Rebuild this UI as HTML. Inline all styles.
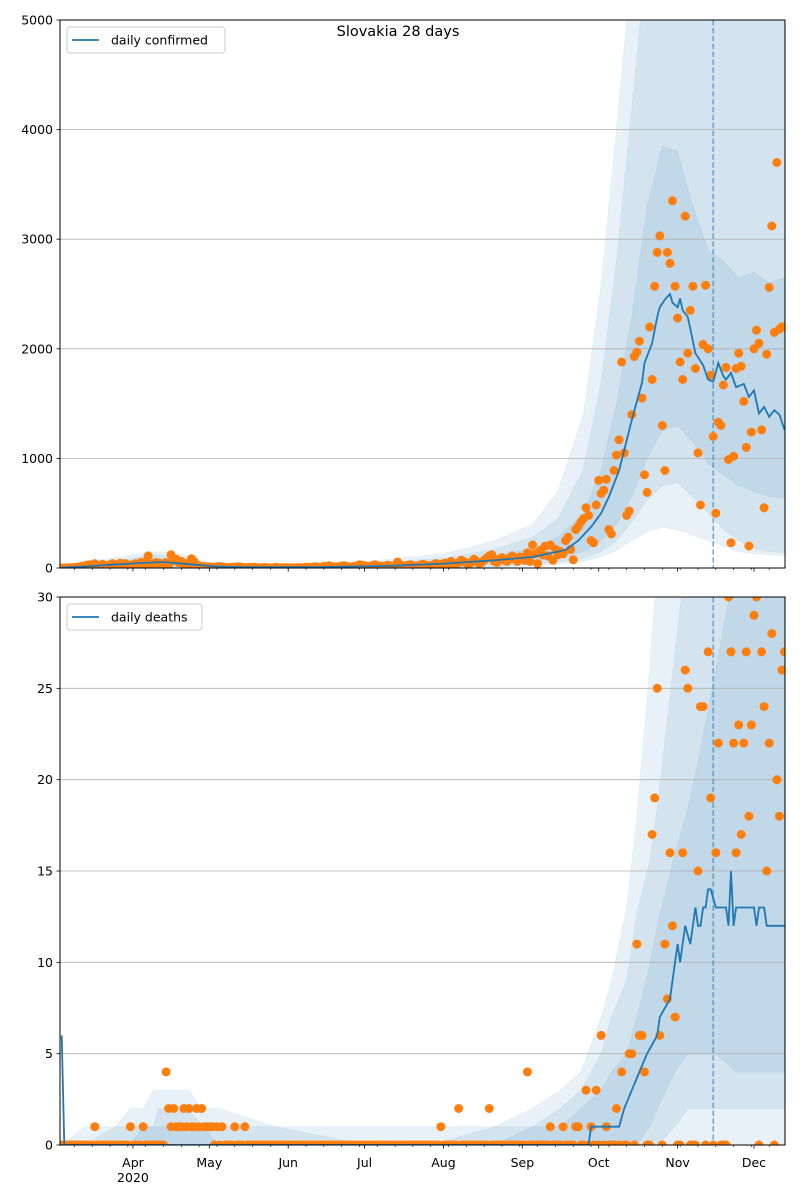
<!DOCTYPE html>
<html><head><meta charset="utf-8"><title>Slovakia 28 days</title>
<style>
html,body{margin:0;padding:0;background:#fff;}
svg{display:block;font-family:"DejaVu Sans","Liberation Sans",sans-serif;}
</style></head>
<body>
<svg id="fig" width="800" height="1200" viewBox="0 0 800 1200" xmlns="http://www.w3.org/2000/svg">
<defs>
<clipPath id="clipTop"><rect x="60" y="20" width="725" height="548"/></clipPath>
<clipPath id="clipBot"><rect x="60" y="597" width="725" height="548"/></clipPath>
</defs>
<rect x="0" y="0" width="800" height="1200" fill="#fff"/>
<g id="top"></g>
<g id="bot"></g>
<text x="398" y="36" text-anchor="middle" font-size="14.5" fill="#000">Slovakia 28 days</text>
</svg>
<script>
// ---- shared x axis (day index from 2020-03-04) ----
const monthDays = [28, 58, 89, 119, 150, 181, 211, 242, 272];
const monthLabels = ["Apr", "May", "Jun", "Jul", "Aug", "Sep", "Oct", "Nov", "Dec"];
const forecastStartDay = 256;

// ---- daily confirmed ----
const caseVals = [
0,0,1,2,3,5,7,10,16,20,25,30,15,40,25,20,35,20,15,30,40,25,20,45,35,40,30,25,
30,40,35,50,20,60,110,30,40,50,45,40,30,50,20,120,70,80,50,60,30,40,20,85,60,30,20,10,15,10,
10,8,5,12,15,10,6,5,3,8,6,12,10,5,4,2,6,5,8,3,2,4,5,3,1,2,6,4,3,2,5,
2,1,3,4,2,5,3,8,6,4,10,12,5,8,15,10,20,15,8,10,12,18,20,15,8,10,14,20,30,25,
20,15,10,22,30,20,18,15,12,25,20,10,15,55,30,20,18,25,30,22,15,20,28,35,25,20,15,30,40,35,25,
40,45,30,60,35,25,50,70,60,45,30,55,80,60,40,50,70,90,110,120,60,50,80,95,70,60,90,110,80,60,100,
90,70,140,60,
210,130,40,160,120,200,110,210,70,170,
120,150,130,250,280,170,75,350,380,420,
450,550,480,250,230,575,800,680,710,810,
350,310,890,1030,1170,1880,1050,480,520,1400,
1930,1970,2070,1550,850,690,2200,1720,2570,2880,
3030,1300,890,2880,2780,3350,2570,2280,1880,1720,
3210,1960,2350,2570,1820,1050,575,2040,2580,2000,
1760,1200,500,1330,1300,1670,1830,990,230,1020,
1820,1960,1840,1520,1100,200,1240,2000,2170,2050,
1260,550,1950,2560,3120,2150,3700,2180,2200,2200
];
const caseLineDays = [0,10,20,30,40,50,60,70,100,130,150,170,185,195,198,203,208,212,215,219,224,228,229,232,234,235,237,239,240,242,243,244,246,249,252,254,256,258,260,261,263,265,268,270,272,274,276,278,280,282,284];
const caseLineVals = [5,15,30,45,55,35,15,8,8,20,40,70,100,150,165,250,375,500,650,890,1350,1690,1870,2050,2290,2380,2450,2500,2420,2380,2460,2350,2290,1960,1850,1720,1700,1870,1750,1720,1780,1650,1680,1560,1620,1410,1470,1380,1440,1400,1260];
const caseBandDays = [0,20,35,45,60,90,120,150,170,185,195,205,212,218,224,230,236,242,248,254,260,266,272,278,284];
const caseB1Lo = [0,0,2,2,0,0,0,0,5,20,35,60,100,160,250,330,370,350,300,250,200,150,130,120,110];
const caseB1Hi = [30,90,150,140,35,25,60,130,250,400,700,1400,2600,4000,5500,7000,7000,7000,7000,7000,7000,7000,7000,7000,7000];
const caseB2Lo = [0,0,5,5,0,0,0,5,15,35,55,90,150,250,420,620,750,780,650,500,350,250,180,150,140];
const caseB2Hi = [20,60,120,110,25,15,40,90,170,280,450,900,1700,2800,4200,5600,6500,6500,6500,6500,6500,6500,6500,6500,6500];
const caseB3Lo = [0,5,15,15,3,2,8,20,40,60,90,150,250,400,650,1000,1250,1300,1150,950,850,750,700,650,640];
const caseB3Hi = [10,40,90,80,15,10,25,60,110,180,280,500,900,1500,2300,3300,3850,3800,3300,2900,2800,2650,2700,2600,2650];
const caseTicks = [0,1000,2000,3000,4000,5000];

// ---- daily deaths ----
const deathVals = [
0,0,0,0,0,0,0,0,0,0,
0,0,0,1,0,0,0,0,0,0,
0,0,0,0,0,0,0,1,0,0,
0,0,1,0,0,0,0,0,0,0,
0,4,2,1,2,1,1,1,2,1,
2,1,1,2,1,2,1,1,1,1,
0,1,0,1,0,0,0,0,1,0,
0,0,1,0,0,0,0,0,0,0,
0,0,0,0,0,0,0,0,0,0,
0,0,0,0,0,0,0,0,0,0,
0,0,0,0,0,0,0,0,0,0,
0,0,0,0,0,0,0,0,0,0,
0,0,0,0,0,0,0,0,0,0,
0,0,0,0,0,0,0,0,0,0,
0,0,0,0,0,0,0,0,0,1,
0,0,0,0,0,0,2,0,0,0,
0,0,0,0,0,0,0,0,2,0,
0,0,0,0,0,0,0,0,0,0,
0,0,0,4,0,0,0,0,0,0,
0,0,1,0,0,0,0,1,0,0,
0,0,1,1,0,0,3,0,1,0,
3,0,6,0,1,0,0,0,2,0,
4,0,0,5,5,0,11,6,6,4,
0,0,17,19,25,6,0,11,8,16,
12,7,0,0,16,26,25,0,0,0,
15,24,24,0,27,19,0,16,22,0,
0,0,30,27,22,16,23,17,22,27,
18,23,29,30,0,27,24,15,22,28,
0,20,18,26,27
];
const deathLineDays = [0,1,207,208,219,221,224,227,230,234,235,239,240,242,243,245,247,249,250,251,252,253,254,255,257,261,262,263,264,265,272,273,274,276,277,284];
const deathLineVals = [6,0,0,1,1,2,3,4,5,6,7,8,9,11,10,12,11,13,12,12,13,13,14,14,13,13,12,15,12,13,13,12,13,13,12,12];
const deathBandDays = [0,9,21,27,32,36,38,50,55,62,84,120,145,170,185,196,204,212,216,222,226,231,234,241,246,250,257,265,284];
const deathB1Lo = [0,0,0,0,0,0,0,0,0,0,0,0,0,0,0,0,0,0,0,0,0,0,0,0,0,0,0,0,0];
const deathB1Hi = [0,1,1,2,2,3,3,3,2,2,1,1,1,1,2,3,4,7,9,13,18,26,32,35,35,35,35,35,35];
const deathB2Lo = [0,0,0,0,0,0,0,0,0,0,0,0,0,0,0,0,0,0,0,0,0,0,0,1,2,2,2,2,2];
const deathB2Hi = [0,0,1,1,1,1,2,2,1,1,1,0,0,1,1,2,3,5,7,9,12.7,15.5,18.4,27,33,35,35,35,35];
const deathB3Lo = [0,0,0,0,0,0,0,0,0,0,0,0,0,0,0,0,0,0,0,0,0,1,2,4,5,5,5,4,4];
const deathB3Hi = [0,0,0,0,1,1,1,1,1,0,0,0,0,0,1,1,2,3,4,5,7,9.8,12,16,18.4,21,26,32,35];
const deathTicks = [0,5,10,15,20,25,30];

const NS = "http://www.w3.org/2000/svg";
const X0 = 60, X1 = 785, DMIN = -0.67, DMAX = 284.2;
function xS(d){ return X0 + (d - DMIN) / (DMAX - DMIN) * (X1 - X0); }
function mk(tag, attrs, parent){
  const e = document.createElementNS(NS, tag);
  for (const k in attrs) e.setAttribute(k, attrs[k]);
  parent.appendChild(e);
  return e;
}

function drawAxes(g, cfg){
  const yS = v => cfg.bottom - (v - 0) / cfg.ymax * (cfg.bottom - cfg.top);
  // bands
  const bandG = mk("g", {"clip-path": "url(#" + cfg.clip + ")"}, g);
  
  
  cfg.bands.forEach((b, i) => {
    let pts = [];
    for (let j = 0; j < cfg.bandDays.length; j++) pts.push(xS(cfg.bandDays[j]).toFixed(1) + "," + yS(b.hi[j]).toFixed(1));
    for (let j = cfg.bandDays.length - 1; j >= 0; j--) pts.push(xS(cfg.bandDays[j]).toFixed(1) + "," + yS(b.lo[j]).toFixed(1));
    const p = mk("polygon", {points: pts.join(" "), fill: "#1f77b4", "fill-opacity": "0.1", stroke: "#1f77b4", "stroke-opacity": "0.06"}, bandG);
    
    
  });
  // gridlines
  cfg.ticks.forEach(t => {
    if (t > 0 && t < cfg.ymax) {
      const l = mk("line", {x1: X0, x2: X1, y1: yS(t), y2: yS(t), stroke: "#b0b0b0", "stroke-width": "0.8"}, g);
      
      
    }
  });
  // forecast start line
  const fl = mk("line", {x1: xS(forecastStartDay), x2: xS(forecastStartDay), y1: cfg.top, y2: cfg.bottom, stroke: "#1f77b4", "stroke-opacity": "0.6", "stroke-width": "1.5", "stroke-dasharray": "5.5,2.4"}, g);
  
  
  // points
  const ptG = mk("g", {"clip-path": "url(#" + cfg.clip + ")"}, g);
  
  
  cfg.vals.forEach((v, d) => {
    const c = mk("circle", {cx: xS(d).toFixed(1), cy: yS(v).toFixed(1), r: "4.5", fill: "#ff7f0e"}, ptG);
    
    
  });
  // median line
  let dstr = "";
  cfg.lineDays.forEach((d, i) => { dstr += (i ? "L" : "M") + xS(d).toFixed(1) + "," + yS(cfg.lineVals[i]).toFixed(1); });
  const ln = mk("path", {d: dstr, fill: "none", stroke: "#1f77b4", "stroke-width": "1.8", "clip-path": "url(#" + cfg.clip + ")"}, g);
  
  
  // frame
  const fr = mk("rect", {x: X0, y: cfg.top, width: X1 - X0, height: cfg.bottom - cfg.top, fill: "none", stroke: "#000", "stroke-width": "1"}, g);
  
  
  // y ticks
  cfg.ticks.forEach(t => {
    const y = yS(t);
    const tk = mk("line", {x1: X0 - 3.5, x2: X0, y1: y, y2: y, stroke: "#000", "stroke-width": "0.8"}, g);
    
    
    const tx = mk("text", {x: X0 - 7, y: y + 4.5, "text-anchor": "end", "font-size": "12.5", fill: "#000"}, g);
    tx.textContent = String(t);
    
    
  });
  // minor weekly x ticks
  for (let d = 5; d <= 284; d += 7) {
    const tk = mk("line", {x1: xS(d), x2: xS(d), y1: cfg.bottom, y2: cfg.bottom + 2, stroke: "#000", "stroke-width": "0.6"}, g);
    
    
  }
  monthDays.forEach((d, i) => {
    const tk = mk("line", {x1: xS(d), x2: xS(d), y1: cfg.bottom, y2: cfg.bottom + 3.5, stroke: "#000", "stroke-width": "0.8"}, g);
    
    
    if (cfg.labels) {
      const tx = mk("text", {x: xS(d), y: cfg.bottom + 22, "text-anchor": "middle", "font-size": "12.5", fill: "#000"}, g);
      tx.textContent = monthLabels[i];
      
      
      if (i === 0) {
        const yr = mk("text", {x: xS(d), y: cfg.bottom + 37, "text-anchor": "middle", "font-size": "12.5", fill: "#000"}, g);
        yr.textContent = "2020";
        
        
      }
    }
  });
  // legend
  const lg = mk("g", {}, g);
  
  
  mk("rect", {x: 67, y: cfg.top + 7, width: cfg.legW, height: 26, rx: 3, fill: "#fff", "fill-opacity": "0.8", stroke: "#ccc", "stroke-width": "1"}, lg);
  mk("line", {x1: 72, x2: 99, y1: cfg.top + 20, y2: cfg.top + 20, stroke: "#1f77b4", "stroke-width": "1.8"}, lg);
  const lt = mk("text", {x: 111, y: cfg.top + 24.5, "font-size": "12.5", fill: "#000"}, lg);
  lt.textContent = cfg.legText;
  
  
}

drawAxes(document.getElementById("top"), {
  prefix: "confirmed", top: 20, bottom: 568, ymax: 5000, clip: "clipTop", ticks: caseTicks,
  vals: caseVals, lineDays: caseLineDays, lineVals: caseLineVals, bandDays: caseBandDays,
  bands: [{lo: caseB1Lo, hi: caseB1Hi}, {lo: caseB2Lo, hi: caseB2Hi}, {lo: caseB3Lo, hi: caseB3Hi}],
  labels: false, legText: "daily confirmed", legW: 158
});
drawAxes(document.getElementById("bot"), {
  prefix: "deaths", top: 597, bottom: 1145, ymax: 30, clip: "clipBot", ticks: deathTicks,
  vals: deathVals, lineDays: deathLineDays, lineVals: deathLineVals, bandDays: deathBandDays,
  bands: [{lo: deathB1Lo, hi: deathB1Hi}, {lo: deathB2Lo, hi: deathB2Hi}, {lo: deathB3Lo, hi: deathB3Hi}],
  labels: true, legText: "daily deaths", legW: 135
});
</script>
</body></html>
